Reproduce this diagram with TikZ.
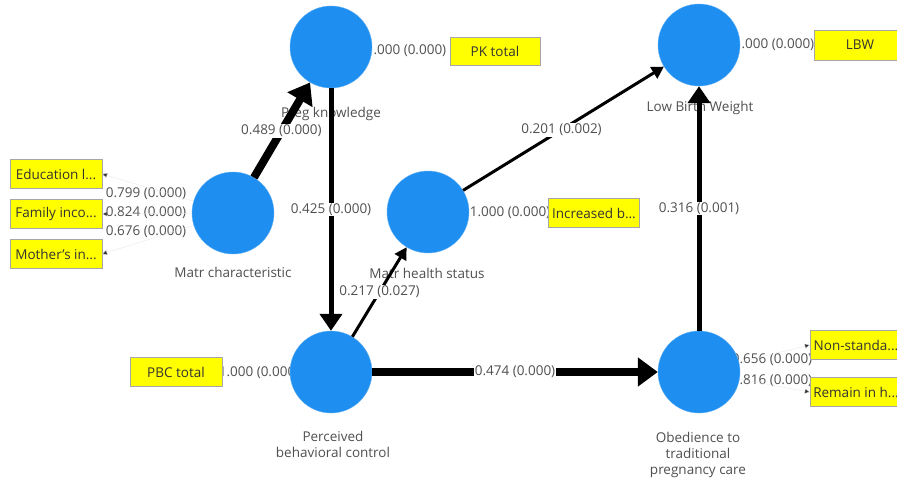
\documentclass[tikz,border=0pt]{standalone}
\usepackage{fontspec}
\setmainfont{Open Sans}
\usetikzlibrary{arrows.meta, positioning}
\definecolor{latentblue}{RGB}{30,142,240}
\definecolor{indyellow}{RGB}{255,255,0}
\definecolor{txtgray}{RGB}{80,80,80}
\newcommand\labelfont{\fontsize{13.5}{16}\selectfont}

\begin{document}
\begin{tikzpicture}[x=1pt, y=-1pt,
    latentvar/.style={circle, fill=latentblue, draw=latentblue!70!white, minimum size=82pt, inner sep=0pt},
    indicator/.style={draw=gray!70, fill=indyellow, minimum width=92pt, minimum height=29pt, inner sep=1pt, text=black!80, font=\labelfont},
    varlabel/.style={text=txtgray, align=center, inner sep=1pt, font=\labelfont},
    loadlabel/.style={text=txtgray, inner sep=0pt, font=\labelfont},
    coeflabel/.style={fill=white, text=txtgray, inner sep=1pt, font=\labelfont},
    heavyarrow/.style={line width=8pt, -{Triangle[length=20pt, width=28pt]}},
    midarrow/.style={line width=5pt, -{Triangle[length=17pt, width=22pt]}},
    lightarrow/.style={line width=3pt, -{Triangle[length=12pt, width=13pt]}},
    loadarrow/.style={line width=0.3pt, draw=gray!20, -{Triangle[length=5pt, width=5pt, fill=black!80]}}
  ]
  \useasboundingbox[fill=white] (0,0) rectangle (897,479);

  % loadings (partly hidden below circles and boxes)
  \node[loadlabel] (lpk) at (406,51) {1.000 (0.000)};
  \node[loadlabel] (llbw) at (774,45) {1.000 (0.000)};
  \node[loadlabel] (lincr) at (510,213) {1.000 (0.000)};
  \node[loadlabel] (lpbc) at (259,373) {1.000 (0.000)};
  \node[loadlabel] (ledu) at (146,194) {0.799 (0.000)};
  \node[loadlabel] (lfam) at (146,213) {0.824 (0.000)};
  \node[loadlabel] (lmot) at (146,232) {0.676 (0.000)};
  \node[loadlabel] (lnon) at (772,360) {0.656 (0.000)};
  \node[loadlabel] (lrem) at (772,381) {0.816 (0.000)};

  % latent variables
  \node[latentvar] (pk) at (331,47) {};
  \node[latentvar] (lbw) at (699,45) {};
  \node[latentvar] (matr) at (233,213) {};
  \node[latentvar] (health) at (428,212) {};
  \node[latentvar] (pbc) at (331,372) {};
  \node[latentvar] (obed) at (699,372) {};

  \node[varlabel] at (331,114) {Preg knowledge};
  \node[varlabel] at (700,108) {Low Birth Weight};
  \node[varlabel] at (233,272) {Matr characteristic};
  \node[varlabel] at (427,273) {Matr health status};
  \node[varlabel] at (333,444) {Perceived\\behavioral control};
  \node[varlabel] at (698,455) {Obedience to\\traditional\\pregnancy care};

  % indicators
  \node[indicator, minimum width=90pt, minimum height=28pt] (pktot) at (495,51) {PK total};
  \node[indicator, minimum height=30pt] (lbwbox) at (860,45) {LBW};
  \node[indicator] (edu) at (56,174) {Education l...};
  \node[indicator] (fam) at (56,214) {Family inco...};
  \node[indicator] (mot) at (56,254) {Mother's in...};
  \node[indicator, minimum width=91pt] (incr) at (594,213) {Increased b...};
  \node[indicator] (pbctot) at (176,372) {PBC total};
  \node[indicator] (nonstd) at (856,345) {Non-standa...};
  \node[indicator] (remain) at (856,392) {Remain in h...};

  \draw[loadarrow] (matr) -- (edu.east);
  \draw[loadarrow] (matr) -- (fam.east);
  \draw[loadarrow] (matr) -- (mot.east);
  \draw[loadarrow] (obed) -- (nonstd.west);
  \draw[loadarrow] (obed) -- (remain.west);

  % structural paths
  \draw[heavyarrow] (matr) -- (pk) node[coeflabel, pos=0.49] {0.489 (0.000)};
  \draw[midarrow] (pk) -- (pbc) node[coeflabel, pos=0.5] {0.425 (0.000)};
  \draw[lightarrow] (pbc) -- (health) node[coeflabel, pos=0.5] {0.217 (0.027)};
  \draw[lightarrow] (health) -- (lbw) node[coeflabel, pos=0.49] {0.201 (0.002)};
  \draw[heavyarrow] (pbc) -- (obed) node[coeflabel, pos=0.5] {0.474 (0.000)};
  \draw[midarrow] (obed) -- (lbw) node[coeflabel, pos=0.5] {0.316 (0.001)};
\end{tikzpicture}
\end{document}
